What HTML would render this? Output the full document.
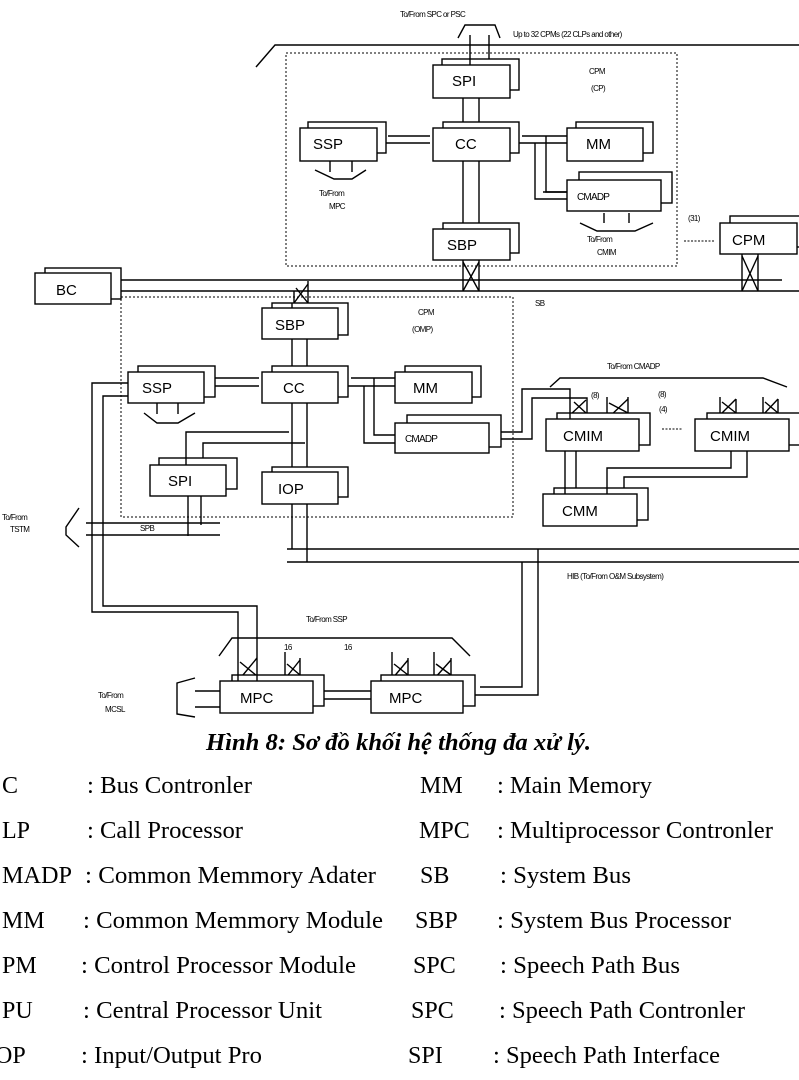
<!DOCTYPE html>
<html><head><meta charset="utf-8"><style>
html,body{margin:0;padding:0;background:#fff;}
body{width:799px;height:1080px;overflow:hidden;position:relative;}
svg{position:absolute;left:0;top:0;}
.s{font-family:"Liberation Sans",sans-serif;fill:#000;}
.t{font-family:"Liberation Serif",serif;font-size:24px;fill:#000;}
</style></head><body>
<svg width="799" height="1080" viewBox="0 0 799 1080" xmlns="http://www.w3.org/2000/svg">
<g fill="none" stroke="#000" stroke-width="1.4">
<polyline points="458,38 465,25 495,25 500,38"/>
<line x1="470" y1="35" x2="470" y2="65"/><line x1="489" y1="35" x2="489" y2="59"/>
<polyline points="256,67 275,45 799,45"/>
<rect x="286" y="53" width="391" height="213" stroke-dasharray="2,2" stroke-width="1"/>
<line x1="463" y1="98" x2="463" y2="128"/><line x1="479" y1="90" x2="479" y2="122"/>
<line x1="463" y1="161" x2="463" y2="229"/><line x1="479" y1="153" x2="479" y2="223"/>
<line x1="388" y1="136" x2="430" y2="136"/><line x1="377" y1="143" x2="430" y2="143"/>
<line x1="522" y1="136" x2="567" y2="136"/><line x1="510" y1="143" x2="567" y2="143"/>
<polyline points="535,143 535,199 567,199"/><polyline points="546,136 546,192 567,192"/>
<line x1="330" y1="161" x2="330" y2="172"/><line x1="352" y1="161" x2="352" y2="172"/>
<polyline points="315,170 334,179 352,179 366,170"/>
<line x1="604" y1="213" x2="604" y2="223"/><line x1="629" y1="213" x2="629" y2="223"/>
<polyline points="580,223 597,231 635,231 653,223"/>
<line x1="684" y1="241" x2="714" y2="241" stroke-dasharray="2,1.5" stroke-width="1"/>
<line x1="121" y1="280" x2="782" y2="280"/><line x1="121" y1="291" x2="799" y2="291"/>
<line x1="463" y1="260" x2="463" y2="291"/><line x1="479" y1="260" x2="479" y2="291"/>
<line x1="463" y1="291" x2="479" y2="262"/><line x1="463" y1="262" x2="479" y2="291"/>
<line x1="742" y1="254" x2="742" y2="291"/><line x1="758" y1="254" x2="758" y2="291"/>
<line x1="742" y1="291" x2="758" y2="256"/><line x1="742" y1="256" x2="758" y2="291"/>
<line x1="294" y1="291" x2="294" y2="308"/><line x1="308" y1="281" x2="308" y2="303"/>
<line x1="294" y1="303" x2="308" y2="284"/><line x1="296" y1="288" x2="308" y2="303"/>
<rect x="121" y="297" width="392" height="220" stroke-dasharray="2,2" stroke-width="1"/>
<line x1="292" y1="339" x2="292" y2="372"/><line x1="307" y1="335" x2="307" y2="366"/>
<line x1="292" y1="403" x2="292" y2="472"/><line x1="307" y1="397" x2="307" y2="467"/>
<line x1="215" y1="378" x2="259" y2="378"/><line x1="204" y1="386" x2="259" y2="386"/>
<line x1="351" y1="378" x2="395" y2="378"/><line x1="338" y1="386" x2="395" y2="386"/>
<polyline points="364,386 364,443 395,443"/><polyline points="374,378 374,435 395,435"/>
<line x1="157" y1="403" x2="157" y2="414"/><line x1="178" y1="403" x2="178" y2="414"/>
<polyline points="144,413 157,423 178,423 195,413"/>
<polyline points="186,465 186,432 289,432"/><polyline points="203,458 203,443 305,443"/>
<polyline points="128,383 92,383 92,612 238,612 238,681"/>
<polyline points="128,396 103,396 103,606 257,606 257,675"/>
<line x1="188" y1="496" x2="188" y2="536"/><line x1="201" y1="489" x2="201" y2="525"/>
<line x1="86" y1="523" x2="220" y2="523"/><line x1="86" y1="535" x2="220" y2="535"/>
<polyline points="79,508 66,527 66,535 79,547"/>
<line x1="292" y1="504" x2="292" y2="549"/><line x1="307" y1="497" x2="307" y2="562"/>
<line x1="287" y1="549" x2="799" y2="549"/><line x1="287" y1="562" x2="799" y2="562"/>
<polyline points="538,549 538,695 475,695"/><polyline points="522,562 522,687 480,687"/>
<polyline points="501,432 522,432 522,389 570,389 570,419"/>
<polyline points="489,439 532,439 532,398 587,398 587,413"/>
<polyline points="550,387 560,378 763,378 787,387"/>
<line x1="570" y1="415" x2="586" y2="400"/><line x1="574" y1="402" x2="586" y2="413"/>
<line x1="607" y1="397" x2="607" y2="419"/><line x1="628" y1="397" x2="628" y2="413"/>
<line x1="607" y1="419" x2="628" y2="399"/><line x1="609" y1="403" x2="628" y2="413"/>
<line x1="720" y1="397" x2="720" y2="419"/><line x1="736" y1="399" x2="736" y2="413"/>
<line x1="720" y1="415" x2="736" y2="399"/><line x1="722" y1="402" x2="736" y2="413"/>
<line x1="763" y1="397" x2="763" y2="419"/><line x1="778" y1="399" x2="778" y2="413"/>
<line x1="763" y1="415" x2="778" y2="399"/><line x1="765" y1="402" x2="778" y2="413"/>
<line x1="662" y1="429" x2="683" y2="429" stroke-dasharray="2,1.5" stroke-width="1"/>
<line x1="789" y1="444" x2="799" y2="444"/>
<line x1="565" y1="451" x2="565" y2="494"/><line x1="576" y1="451" x2="576" y2="488"/>
<polyline points="731,451 731,468 607,468 607,494"/><polyline points="747,451 747,477 624,477 624,488"/>
<polyline points="219,656 232,638 452,638 470,656"/>
<line x1="238" y1="681" x2="257" y2="658"/><line x1="240" y1="662" x2="257" y2="676"/>
<line x1="285" y1="652" x2="285" y2="681"/><line x1="300" y1="658" x2="300" y2="675"/>
<line x1="285" y1="679" x2="300" y2="660"/><line x1="287" y1="664" x2="300" y2="675"/>
<line x1="392" y1="652" x2="392" y2="681"/><line x1="408" y1="658" x2="408" y2="675"/>
<line x1="392" y1="679" x2="408" y2="660"/><line x1="394" y1="664" x2="408" y2="675"/>
<line x1="434" y1="652" x2="434" y2="681"/><line x1="451" y1="658" x2="451" y2="675"/>
<line x1="434" y1="679" x2="451" y2="660"/><line x1="436" y1="664" x2="451" y2="675"/>
<line x1="324" y1="691" x2="371" y2="691"/><line x1="313" y1="699" x2="371" y2="699"/>
<polyline points="195,678 177,683 177,714 195,717"/>
<line x1="195" y1="691" x2="220" y2="691"/><line x1="195" y1="707" x2="220" y2="707"/>
</g>
<g fill="#fff" stroke="#000" stroke-width="1.4">
<rect x="442" y="59" width="77" height="31"/><rect x="433" y="65" width="77" height="33"/>
<rect x="443" y="122" width="76" height="31"/><rect x="433" y="128" width="77" height="33"/>
<rect x="308" y="122" width="78" height="31"/><rect x="300" y="128" width="77" height="33"/>
<rect x="576" y="122" width="77" height="31"/><rect x="567" y="128" width="76" height="33"/>
<rect x="579" y="172" width="93" height="31"/><rect x="567" y="180" width="94" height="31"/>
<rect x="443" y="223" width="76" height="30"/><rect x="433" y="229" width="77" height="31"/>
<rect x="730" y="216" width="75" height="31"/><rect x="720" y="223" width="77" height="31"/>
<rect x="45" y="268" width="76" height="31"/><rect x="35" y="273" width="76" height="31"/>
<rect x="272" y="303" width="76" height="32"/><rect x="262" y="308" width="76" height="31"/>
<rect x="272" y="366" width="76" height="31"/><rect x="262" y="372" width="76" height="31"/>
<rect x="138" y="366" width="77" height="31"/><rect x="128" y="372" width="76" height="31"/>
<rect x="405" y="366" width="76" height="31"/><rect x="395" y="372" width="77" height="31"/>
<rect x="407" y="415" width="94" height="32"/><rect x="395" y="423" width="94" height="30"/>
<rect x="159" y="458" width="78" height="31"/><rect x="150" y="465" width="76" height="31"/>
<rect x="272" y="467" width="76" height="30"/><rect x="262" y="472" width="76" height="32"/>
<rect x="557" y="413" width="93" height="32"/><rect x="546" y="419" width="93" height="32"/>
<rect x="707" y="413" width="95" height="32"/><rect x="695" y="419" width="94" height="32"/>
<rect x="554" y="488" width="94" height="32"/><rect x="543" y="494" width="94" height="32"/>
<rect x="232" y="675" width="92" height="31"/><rect x="220" y="681" width="93" height="32"/>
<rect x="381" y="675" width="94" height="31"/><rect x="371" y="681" width="92" height="32"/>
</g>
<g stroke="#000" stroke-width="1.4">
<line x1="470" y1="59" x2="470" y2="65"/>
<line x1="543" y1="192" x2="567" y2="192"/>
<line x1="238" y1="675" x2="238" y2="681"/><line x1="257" y1="675" x2="257" y2="681"/>
<line x1="570" y1="413" x2="570" y2="419"/>
<line x1="565" y1="488" x2="565" y2="494"/><line x1="607" y1="488" x2="607" y2="494"/>
<line x1="186" y1="458" x2="186" y2="465"/>
<line x1="292" y1="303" x2="292" y2="308"/>
</g>
<g class="s" font-size="15">
<text x="452" y="86">SPI</text><text x="455" y="149">CC</text><text x="313" y="149">SSP</text>
<text x="586" y="149">MM</text><text x="447" y="250">SBP</text><text x="732" y="245">CPM</text>
<text x="56" y="295">BC</text><text x="275" y="330">SBP</text><text x="283" y="393">CC</text>
<text x="142" y="393">SSP</text><text x="413" y="393">MM</text><text x="168" y="486">SPI</text>
<text x="278" y="494">IOP</text><text x="563" y="441">CMIM</text><text x="710" y="441">CMIM</text>
<text x="562" y="516">CMM</text><text x="240" y="703">MPC</text><text x="389" y="703">MPC</text>
</g>
<g class="s" font-size="10" letter-spacing="-0.8">
<text x="577" y="200">CMADP</text><text x="405" y="442">CMADP</text>
</g>
<g class="s" font-size="8" letter-spacing="-0.6">
<text x="400" y="17">To/From SPC or PSC</text>
<text x="513" y="37">Up to 32 CPMs (22 CLPs and other)</text>
<text x="589" y="74">CPM</text><text x="591" y="91">(CP)</text>
<text x="319" y="196">To/From</text><text x="329" y="209">MPC</text>
<text x="587" y="242">To/From</text><text x="597" y="255">CMIM</text>
<text x="688" y="221">(31)</text>
<text x="535" y="306">SB</text>
<text x="418" y="315">CPM</text><text x="412" y="332">(OMP)</text>
<text x="607" y="369">To/From CMADP</text>
<text x="591" y="398">(8)</text><text x="658" y="397">(8)</text><text x="659" y="412">(4)</text>
<text x="2" y="520">To/From</text><text x="10" y="532">TSTM</text>
<text x="140" y="531">SPB</text>
<text x="567" y="579">HIB (To/From O&amp;M Subsystem)</text>
<text x="306" y="622">To/From SSP</text>
<text x="284" y="650">16</text><text x="344" y="650">16</text>
<text x="98" y="698">To/From</text><text x="105" y="712">MCSL</text>
</g>
<text x="206" y="750" textLength="385" lengthAdjust="spacingAndGlyphs" font-family="Liberation Serif,serif" font-size="24" font-weight="bold" font-style="italic">Hình 8: Sơ đồ khối hệ thống đa xử lý.</text>
<g class="t" lengthAdjust="spacingAndGlyphs">
<text x="2" y="793">C</text><text x="87" y="793" textLength="165" lengthAdjust="spacingAndGlyphs">: Bus Contronler</text>
<text x="2" y="838">LP</text><text x="87" y="838" textLength="156" lengthAdjust="spacingAndGlyphs">: Call Processor</text>
<text x="2" y="883" textLength="70" lengthAdjust="spacingAndGlyphs">MADP</text><text x="85" y="883" textLength="291" lengthAdjust="spacingAndGlyphs">: Common Memmory Adater</text>
<text x="2" y="928">MM</text><text x="83" y="928" textLength="300" lengthAdjust="spacingAndGlyphs">: Common Memmory Module</text>
<text x="2" y="973">PM</text><text x="81" y="973" textLength="275" lengthAdjust="spacingAndGlyphs">: Control Processor Module</text>
<text x="2" y="1018">PU</text><text x="83" y="1018" textLength="239" lengthAdjust="spacingAndGlyphs">: Central Processor Unit</text>
<text x="-5" y="1063">OP</text><text x="81" y="1063" textLength="181" lengthAdjust="spacingAndGlyphs">: Input/Output Pro</text>
<text x="420" y="793">MM</text><text x="497" y="793" textLength="155" lengthAdjust="spacingAndGlyphs">: Main Memory</text>
<text x="419" y="838">MPC</text><text x="497" y="838" textLength="276" lengthAdjust="spacingAndGlyphs">: Multiprocessor Contronler</text>
<text x="420" y="883">SB</text><text x="500" y="883" textLength="131" lengthAdjust="spacingAndGlyphs">: System Bus</text>
<text x="415" y="928">SBP</text><text x="497" y="928" textLength="234" lengthAdjust="spacingAndGlyphs">: System Bus Processor</text>
<text x="413" y="973">SPC</text><text x="500" y="973" textLength="180" lengthAdjust="spacingAndGlyphs">: Speech Path Bus</text>
<text x="411" y="1018">SPC</text><text x="499" y="1018" textLength="246" lengthAdjust="spacingAndGlyphs">: Speech Path Contronler</text>
<text x="408" y="1063">SPI</text><text x="493" y="1063" textLength="227" lengthAdjust="spacingAndGlyphs">: Speech Path Interface</text>
</g>
</svg>
</body></html>
